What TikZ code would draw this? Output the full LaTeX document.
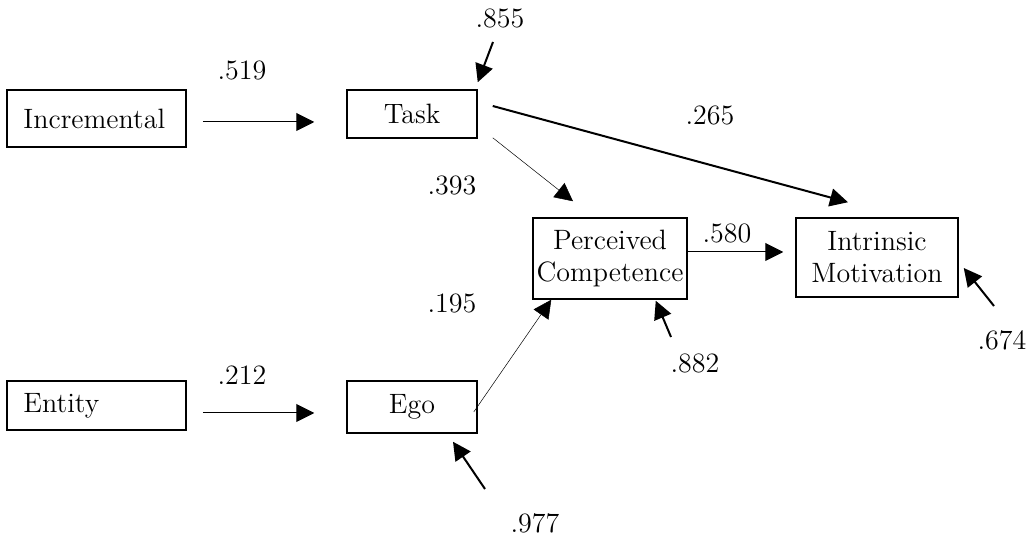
\documentclass[tikz,border=0pt]{standalone}
\usepackage{tikz}
\usetikzlibrary{arrows.meta}
\usetikzlibrary{calc}

\begin{document}
\begin{tikzpicture}[
			x=0.5pt, y=-0.5pt,
			every node/.style={font=\fontsize{14}{16}\selectfont, inner sep=0pt},
			var/.style={draw, line width=0.75pt, align=center},
			exo/.style={var, text width=73pt, align=left, inner xsep=8.25pt},
			tip/.style={-{Triangle[length=9pt, width=9pt]}},
			link/.style={tip, line width=0.5pt},
			weak/.style={tip, line width=0.25pt},
			strong/.style={tip, line width=1pt}
		]

		\useasboundingbox (0,0) rectangle (1034,539);

		% variables
		\node[exo, minimum height=28.5pt] (incr) at (96.5,118.5) {Incremental};
		\node[exo, minimum height=24.5pt] (entity) at (96.5,405.5) {Entity};
		\node[var, minimum width=65pt, minimum height=24pt] (task) at (412,114) {Task};
		\node[var, minimum width=65pt, minimum height=26pt] (ego) at (412,407) {Ego};
		\node[var, minimum width=77pt, minimum height=40.5pt] (pc) at (610,258.5) {Perceived\\Competence};
		\node[var, minimum width=81pt, minimum height=39.5pt] (im) at (877,257.5) {Intrinsic\\Motivation};

		% paths between the variables
		\draw[link] ($(incr.east)+(16,3.5)$) -- ($(task.west)+(-32,8)$);
		\draw[link] ($(entity.east)+(16,7.5)$) -- ($(ego.west)+(-32,6)$);
		\draw[weak] ($(task.south east)+(15,-1)$) -- ($(pc.north)+(-37,-16)$);
		\draw[strong] ($(task.east)+(15,-8)$) -- ($(im.north)+(-29,-15)$);
		\draw[weak] ($(ego.east)+(-4,5)$) -- ($(pc.south west)+(19,0)$);
		\draw[link] ($(pc.east)+(0,-6.5)$) -- ($(im.west)+(-12,-5.5)$);

		% error terms
		\coordinate (e1) at (493,42);
		\coordinate (e2) at (485,489);
		\coordinate (e3) at (671,337);
		\coordinate (e4) at (994,306);
		\draw[strong] (e1) -- ($(task.north east)+(0,-7)$);
		\draw[strong] (e2) -- ($(ego.south)+(41,8)$);
		\draw[strong] (e3) -- ($(pc.south east)+(-32,1)$);
		\draw[strong] (e4) -- ($(im.east)+(5,10.5)$);

		% coefficients
		\foreach \v/\x/\y in {519/242/70, 212/242/375, 855/500/18, 265/710/115,
				393/452/185, 195/452/303, 580/727/233, 882/695/363, 674/1002/340, 977/535/523} {
				\node (c\v) at (\x,\y) {.\v};
			}

	\end{tikzpicture}
\end{document}
